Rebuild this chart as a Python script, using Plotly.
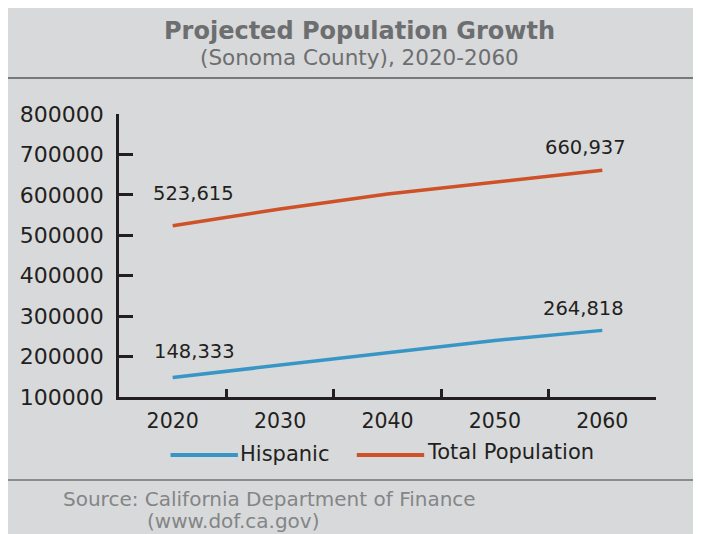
import plotly.graph_objects as go

# data
years = ["2020", "2030", "2040", "2050", "2060"]
hispanic = [148333, 179000, 209000, 240000, 264818]
total = [523615, 565000, 602000, 632000, 660937]
y_ticks = [100000, 200000, 300000, 400000, 500000, 600000, 700000, 800000]

BG = "#d8d9da"
INK = "#231f20"
BLUE = "#3796c6"
ORANGE = "#cf5128"
FONT = "DejaVu Sans"

W, H = 701, 534
OFF = 8  # the page body margin shifts the figure by 8px
# plot area as seen on screen
L, R, T, B = 114, 656, 114, 397


def px(x):
    return (x - L) / (R - L)


def py(y):
    return (B - y) / (B - T)


fig = go.Figure()
fig.add_trace(go.Scatter(x=years, y=hispanic, mode="lines", name="Hispanic",
                         line=dict(color=BLUE, width=3.5)))
fig.add_trace(go.Scatter(x=years, y=total, mode="lines", name="Total Population",
                         line=dict(color=ORANGE, width=3.5)))

annotations = [
    dict(text="<b>Projected Population Growth</b>", x=px(357), y=py(31),
         font=dict(size=24, color="#6d6e70")),
    dict(text="(Sonoma County), 2020-2060", x=px(357), y=py(58),
         font=dict(size=21.5, color="#6d6e70")),
    dict(text="Hispanic", x=px(234), y=py(454), xanchor="left",
         font=dict(size=21, color=INK)),
    dict(text="Total Population", x=px(423), y=py(452), xanchor="left",
         font=dict(size=21, color=INK)),
    dict(text="Source: California Department of Finance", x=px(55), y=py(499),
         xanchor="left", font=dict(size=20, color="#838587")),
    dict(text="(www.dof.ca.gov)", x=px(140), y=py(521),
         xanchor="left", font=dict(size=20, color="#838587")),
]
for a in annotations:
    a.update(xref="paper", yref="paper", showarrow=False)
    a.setdefault("xanchor", "center")
    a["yanchor"] = "middle"

# value labels at the first and last points
for series, offs in ((total, [(21, 32), (-17, 23)]), (hispanic, [(22, 26), (-19, 22)])):
    for idx, (dx, dy) in zip((0, len(years) - 1), offs):
        annotations.append(dict(x=idx, y=series[idx], text=f"{series[idx]:,}",
                                xref="x", yref="y", showarrow=False,
                                xshift=dx, yshift=dy, xanchor="center", yanchor="middle",
                                font=dict(size=19.5, color=INK)))

shapes = [
    # rules below title and legend
    dict(type="line", x0=px(0), x1=px(W + OFF), y0=py(78), y1=py(78), line=dict(color="#77787a", width=2)),
    dict(type="line", x0=px(0), x1=px(W + OFF), y0=py(480), y1=py(480), line=dict(color="#8a8b8d", width=2)),
    # legend swatches
    dict(type="line", x0=px(166), x1=px(234), y0=py(455), y1=py(455), line=dict(color=BLUE, width=4)),
    dict(type="line", x0=px(354), x1=px(422), y0=py(455), y1=py(455), line=dict(color=ORANGE, width=4)),
]
for s in shapes:
    s.update(xref="paper", yref="paper", layer="below")

fig.update_layout(
    width=W, height=H,
    margin=dict(l=L - OFF, r=W - (R - OFF), t=T - OFF, b=H - (B - OFF)),
    paper_bgcolor=BG, plot_bgcolor=BG,
    font=dict(family=FONT, color=INK),
    showlegend=False,
    annotations=annotations,
    shapes=shapes,
    xaxis=dict(type="category", range=[-0.5, 4.5], showgrid=False, zeroline=False,
               showline=True, linecolor=INK, linewidth=2.5,
               tickson="boundaries", ticks="inside", ticklen=8, tickwidth=2.5,
               tickcolor=INK, tickfont=dict(size=20.5, color=INK), ticklabelstandoff=4),
    yaxis=dict(range=[100000, 800000], tickvals=y_ticks, ticktext=[str(v) for v in y_ticks],
               showgrid=False, zeroline=False,
               showline=True, linecolor=INK, linewidth=2.5,
               ticks="inside", ticklen=14, tickwidth=2.5, tickcolor=INK,
               tickfont=dict(size=22, color=INK), ticklabelstandoff=8),
)

fig.write_html("out.html")
